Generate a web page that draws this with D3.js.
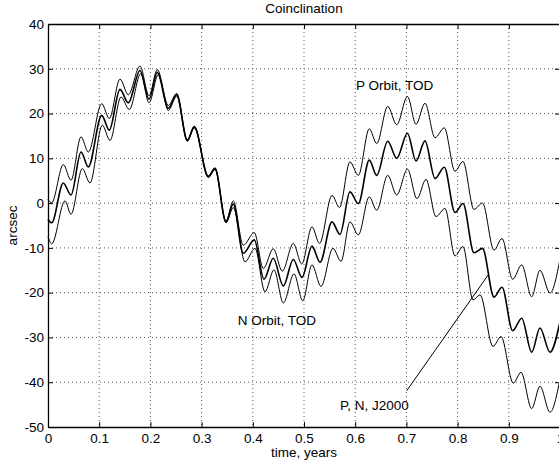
<!DOCTYPE html>
<html>
<head>
<meta charset="utf-8">
<script src="https://cdnjs.cloudflare.com/ajax/libs/d3/7.8.5/d3.min.js"></script>
<style>
  body { margin: 0; background: #fff; }
  text { font-family: "Liberation Sans", Arial, Helvetica, sans-serif; font-size: 13.5px; fill: #000; }
</style>
</head>
<body>
<script>
// values: [time in years, arcsec] at each wiggle top / bottom
var pOrbitTOD = [
  [0, 0.8], [0.0072, 0.1], [0.0299, 8.6], [0.0449, 5.1], [0.0645, 14.8], [0.0787, 11.4],
  [0.1049, 22.2], [0.1197, 18.9], [0.1406, 27.7], [0.1568, 24.2], [0.1797, 30.6], [0.1973, 24.0],
  [0.2135, 29.8], [0.2350, 21.8], [0.2514, 24.5], [0.2721, 14.2], [0.2857, 17.2], [0.3131, 6.1],
  [0.3262, 7.9], [0.3477, -4.0], [0.3619, 0.5], [0.3814, -9.4], [0.4029, -6.6], [0.4205, -14.6],
  [0.4400, -10.2], [0.4576, -15.2], [0.4791, -9.0], [0.4955, -13.6], [0.5156, -5.3], [0.5303, -9.0],
  [0.5547, 1.7], [0.5693, -1.0], [0.5898, 9.2], [0.6061, 6.2], [0.6275, 16.6], [0.6420, 13.3],
  [0.6635, 21.6], [0.6811, 17.5], [0.7021, 23.8], [0.7188, 17.6], [0.7363, 22.3], [0.7559, 14.6],
  [0.7740, 16.8], [0.7949, 7.1], [0.8105, 9.3], [0.8320, -1.4], [0.8486, 0.0], [0.8711, -10.5],
  [0.8867, -7.9], [0.9076, -17.0], [0.9252, -13.8], [0.9447, -20.9], [0.9609, -15.0], [0.9805, -20.1],
  [1.0, -12.5]
];

var pnJ2000 = [
  [0, -3.6], [0.0072, -4.4], [0.0299, 4.5], [0.0449, 1.8], [0.0645, 11.4], [0.0787, 8.1],
  [0.1049, 19.6], [0.1197, 16.3], [0.1406, 25.4], [0.1568, 22.4], [0.1797, 29.6], [0.1973, 23.2],
  [0.2135, 29.2], [0.2350, 21.2], [0.2514, 24.2], [0.2721, 14.0], [0.2857, 17.0], [0.3131, 5.9],
  [0.3262, 7.7], [0.3477, -4.2], [0.3619, -0.2], [0.3814, -11.2], [0.4029, -8.2], [0.4219, -17.0],
  [0.4400, -12.3], [0.4596, -18.5], [0.4791, -12.6], [0.4961, -16.6], [0.5156, -9.6], [0.5313, -13.2],
  [0.5547, -4.2], [0.5703, -7.0], [0.5898, 2.5], [0.6061, -0.1], [0.6275, 9.6], [0.6420, 6.2],
  [0.6635, 13.8], [0.6811, 10.0], [0.7021, 15.6], [0.7188, 9.4], [0.7363, 13.9], [0.7559, 5.5],
  [0.7740, 8.0], [0.7949, -2.1], [0.8105, -0.1], [0.8320, -11.1], [0.8486, -10.1], [0.8711, -21.0],
  [0.8867, -18.8], [0.9076, -28.5], [0.9252, -25.7], [0.9447, -33.3], [0.9609, -27.9], [0.9805, -33.3],
  [1.0, -26.5]
];

var nOrbitTOD = [
  [0, -7.5], [0.0072, -9.1], [0.0332, 0.5], [0.0449, -2.5], [0.0670, 7.7], [0.0820, 4.5],
  [0.1061, 17.4], [0.1211, 14.0], [0.1426, 23.7], [0.1588, 20.9], [0.1811, 28.9], [0.1973, 22.4],
  [0.2154, 28.7], [0.2350, 20.7], [0.2514, 23.9], [0.2721, 13.8], [0.2857, 16.8], [0.3131, 5.7],
  [0.3262, 7.5], [0.3477, -4.4], [0.3619, -1.0], [0.3848, -13.1], [0.4043, -10.1], [0.4238, -19.8],
  [0.4414, -14.9], [0.4596, -22.3], [0.4805, -15.8], [0.4975, -21.8], [0.5156, -13.8], [0.5332, -18.6],
  [0.5566, -10.1], [0.5723, -13.0], [0.5898, -4.2], [0.6061, -7.1], [0.6275, 1.4], [0.6420, -1.6],
  [0.6635, 6.2], [0.6811, 1.8], [0.7021, 7.6], [0.7207, 1.0], [0.7383, 5.3], [0.7578, -3.0],
  [0.7754, -1.2], [0.7949, -11.8], [0.8105, -9.7], [0.8301, -21.6], [0.8438, -20.5], [0.8691, -32.0],
  [0.8848, -29.8], [0.9088, -40.2], [0.9238, -37.8], [0.9447, -45.9], [0.9609, -40.9], [0.9805, -46.7],
  [1.0, -39.3]
];

var xTicks = [0, 0.1, 0.2, 0.3, 0.4, 0.5, 0.6, 0.7, 0.8, 0.9, 1];
var xTickLabels = ["0", "0.1", "0.2", "0.3", "0.4", "0.5", "0.6", "0.7", "0.8", "0.9", "1"];
var yTicks = [40, 30, 20, 10, 0, -10, -20, -30, -40, -50];
var yTickLabels = ["40", "30", "20", "10", "0", "-10", "-20", "-30", "-40", "-50"];

// text notes: [x, y] in data units, and the arrow of the J2000 note
var notes = [
  { text: "P Orbit, TOD", at: [0.6016, 25.2] },
  { text: "N Orbit, TOD", at: [0.3705, -27.2] },
  { text: "P, N, J2000", at: [0.5703, -46.1] }
];
var noteArrow = [[0.7006, -41.9], [0.86, -16.0]];

var w = 559,
    h = 467,
    padL = 48,
    padR = 560,
    padT = 24,
    padB = 427;

var x = d3.scaleLinear().domain([0, 1]).range([padL, padR]);
var y = d3.scaleLinear().domain([-50, 40]).range([padB, padT]);

var svg = d3.select("body").append("svg")
    .attr("width", w)
    .attr("height", h);

// dotted grid
svg.append("g").selectAll("line")
    .data(xTicks.slice(1, -1))
    .enter().append("line")
    .attr("x1", function(d) { return x(d); })
    .attr("x2", function(d) { return x(d); })
    .attr("y1", padT).attr("y2", padB)
    .attr("stroke", "#555").attr("stroke-width", 1)
    .attr("stroke-dasharray", "1,3");

svg.append("g").selectAll("line")
    .data(yTicks.slice(1, -1))
    .enter().append("line")
    .attr("y1", function(d) { return y(d); })
    .attr("y2", function(d) { return y(d); })
    .attr("x1", padL).attr("x2", padR)
    .attr("stroke", "#555").attr("stroke-width", 1)
    .attr("stroke-dasharray", "1,3");

// axes, ticks pointing in like matlab
function fmt(ticks, labels) {
  return function(d) { return labels[ticks.indexOf(d)]; };
}

var xAxis = svg.append("g")
    .attr("transform", "translate(0," + padB + ")")
    .call(d3.axisBottom(x).tickValues(xTicks).tickSize(-5).tickSizeOuter(0)
      .tickFormat(fmt(xTicks, xTickLabels)));

svg.append("g")
    .attr("transform", "translate(0," + padT + ")")
    .call(d3.axisTop(x).tickValues(xTicks).tickSize(-5).tickSizeOuter(0).tickFormat(""));

var yAxis = svg.append("g")
    .attr("transform", "translate(" + padL + ",0)")
    .call(d3.axisLeft(y).tickValues(yTicks).tickSize(-5).tickSizeOuter(0)
      .tickFormat(fmt(yTicks, yTickLabels)));

svg.append("g")
    .attr("transform", "translate(" + padR + ",0)")
    .call(d3.axisRight(y).tickValues(yTicks).tickSize(-5).tickSizeOuter(0).tickFormat(""));

svg.selectAll(".domain").attr("stroke", "#000").attr("stroke-width", 1.3);
svg.selectAll(".tick line").attr("stroke", "#000");
svg.selectAll(".tick text")
    .style("font-size", "13.5px")
    .style("font-family", "'Liberation Sans', Arial, sans-serif")
    .attr("fill", "#000");
xAxis.selectAll(".tick text").attr("y", 6).attr("dy", "0.71em");
yAxis.selectAll(".tick text").attr("x", -4);

// curves
var line = d3.line()
    .x(function(d) { return x(d[0]); })
    .y(function(d) { return y(d[1]); })
    .curve(d3.curveMonotoneX);

svg.append("path").datum(pOrbitTOD)
    .attr("d", line).attr("fill", "none").attr("stroke", "#000").attr("stroke-width", 1);
svg.append("path").datum(nOrbitTOD)
    .attr("d", line).attr("fill", "none").attr("stroke", "#000").attr("stroke-width", 1);
svg.append("path").datum(pnJ2000)
    .attr("d", line).attr("fill", "none").attr("stroke", "#000").attr("stroke-width", 1.6);

// notes
svg.append("line")
    .attr("x1", x(noteArrow[0][0])).attr("y1", y(noteArrow[0][1]))
    .attr("x2", x(noteArrow[1][0])).attr("y2", y(noteArrow[1][1]))
    .attr("stroke", "#000").attr("stroke-width", 1);

svg.selectAll("text.note")
    .data(notes)
    .enter().append("text")
    .attr("class", "note")
    .attr("x", function(d) { return x(d.at[0]); })
    .attr("y", function(d) { return y(d.at[1]); })
    .text(function(d) { return d.text; });

// titles
svg.append("text")
    .attr("x", (padL + padR) / 2).attr("y", 13)
    .attr("text-anchor", "middle")
    .text("Coinclination");

svg.append("text")
    .attr("x", (padL + padR) / 2).attr("y", 457)
    .attr("text-anchor", "middle")
    .text("time, years");

svg.append("text")
    .attr("transform", "translate(16.5," + (padT + padB) / 2 + ") rotate(-90)")
    .attr("text-anchor", "middle")
    .text("arcsec");
</script>
</body>
</html>
